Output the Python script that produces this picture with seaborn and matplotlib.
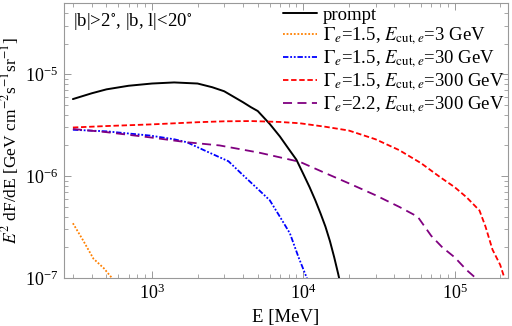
import matplotlib
matplotlib.use("Agg")
import matplotlib.pyplot as plt
import seaborn as sns

# energies in MeV, E^2 dF/dE in GeV cm^-2 s^-1 sr^-1
prompt_E = [300, 400, 500, 700, 1000, 1400, 2000, 2500, 3000, 3500, 4000, 4500, 5000, 6000, 7000, 8000,
            9000, 10000, 11000, 12000, 13000, 14000, 15000, 16000, 17000, 18000]
prompt_F = [5.7e-6, 6.5e-6, 7.1e-6, 7.7e-6, 8.1e-6, 8.3e-6, 8.1e-6, 7.45e-6, 6.8e-6, 5.95e-6, 5.3e-6, 4.75e-6,
            4.35e-6, 3.25e-6, 2.45e-6, 1.85e-6, 1.45e-6, 1.05e-6, 7.8e-7, 5.8e-7, 4.3e-7, 3.2e-7, 2.3e-7,
            1.6e-7, 1.1e-7, 7.5e-8]

cut3_E = [300, 350, 410, 480, 560]
cut3_F = [3.45e-7, 2.35e-7, 1.55e-7, 1.25e-7, 9.5e-8]

cut30_E = [300, 500, 970, 1400, 1700, 2200, 2800, 3200, 4000, 4900, 6000, 7000, 8150, 9300, 10700]
cut30_F = [2.85e-6, 2.75e-6, 2.5e-6, 2.3e-6, 2.15e-6, 1.8e-6, 1.53e-6, 1.4e-6, 1.02e-6, 7.7e-7, 5.8e-7,
           4.0e-7, 2.75e-7, 1.6e-7, 9.5e-8]

cut300_E = [300, 500, 1000, 2000, 3000, 4500, 7000, 9500, 14000, 20000, 30000, 43000, 60000, 80000,
            100000, 120000, 146000, 160000, 178000, 200000, 216000]
cut300_F = [3.0e-6, 3.1e-6, 3.22e-6, 3.38e-6, 3.45e-6, 3.47e-6, 3.4e-6, 3.3e-6, 3.05e-6, 2.8e-6, 2.3e-6,
            1.8e-6, 1.34e-6, 9.8e-7, 7.8e-7, 6.2e-7, 4.6e-7, 3.2e-7, 1.9e-7, 1.35e-7, 9.5e-8]

g22_E = [300, 500, 970, 1700, 2800, 5100, 9500, 14000, 20000, 30000, 43000, 57000, 70000, 83000,
         100000, 120000, 138000]
g22_F = [2.9e-6, 2.7e-6, 2.4e-6, 2.15e-6, 2.0e-6, 1.7e-6, 1.38e-6, 1.07e-6, 8.5e-7, 6.5e-7, 5e-7, 4e-7,
         2.6e-7, 2e-7, 1.6e-7, 1.2e-7, 1e-7]

sns.set_style("ticks")
plt.rcParams["font.family"] = ["Liberation Serif", "DejaVu Serif"]
plt.rcParams["mathtext.fontset"] = "stix"
plt.rcParams["text.color"] = "black"
plt.rcParams["axes.labelcolor"] = "black"
plt.rcParams["xtick.labelcolor"] = "black"
plt.rcParams["ytick.labelcolor"] = "black"

fig = plt.figure(figsize=(5.12, 3.26), dpi=100)
ax = fig.add_axes([0.125, 0.147, 0.867, 0.844])

sns.lineplot(x=prompt_E, y=prompt_F, ax=ax, color="black", lw=1.4, label="prompt")
sns.lineplot(x=cut3_E, y=cut3_F, ax=ax, color="#ff8000", lw=1.3, linestyle=(0, (1, 1)),
             label=r"$\Gamma_e$=1.5, $E_{\mathrm{cut},e}$=3 GeV")
sns.lineplot(x=cut30_E, y=cut30_F, ax=ax, color="#0000ff", lw=1.3, linestyle=(0, (3, 1, 1, 1, 1, 1)),
             label=r"$\Gamma_e$=1.5, $E_{\mathrm{cut},e}$=30 GeV")
sns.lineplot(x=cut300_E, y=cut300_F, ax=ax, color="#ff0000", lw=1.3, linestyle=(0, (3, 1.5)),
             label=r"$\Gamma_e$=1.5, $E_{\mathrm{cut},e}$=300 GeV")
sns.lineplot(x=g22_E, y=g22_F, ax=ax, color="#800080", lw=1.3, linestyle=(0, (5, 3)),
             label=r"$\Gamma_e$=2.2, $E_{\mathrm{cut},e}$=300 GeV")

ax.set_xscale("log")
ax.set_yscale("log")
ax.set_xlim(262, 2.25e5)
ax.set_ylim(1e-7, 5e-5)

ax.set_xlabel("E [MeV]", fontsize=13.5, labelpad=4)
ax.set_ylabel(r"$E^2$ dF/dE [GeV cm$^{-2}$s$^{-1}$sr$^{-1}$]", fontsize=12.5, labelpad=3)

for s in ax.spines.values():
    s.set_color("#999999")
    s.set_linewidth(0.8)
ax.tick_params(which="both", direction="in", top=True, right=True, color="#999999", labelsize=13)
ax.tick_params(which="major", length=5, width=0.7, pad=4)
ax.tick_params(which="minor", length=3, width=0.6)

ax.text(0.02, 0.97, r"|b|>2$^{\circ}$, |b, l|<20$^{\circ}$", transform=ax.transAxes,
        fontsize=13.5, va="top", ha="left")

ax.legend(loc="upper right", frameon=False, fontsize=13.5, handlelength=1.8, handletextpad=0.3,
          labelspacing=0.1, borderaxespad=0.1, borderpad=0.1, bbox_to_anchor=(1.0, 1.0))

fig.savefig("out.png", dpi=100)
